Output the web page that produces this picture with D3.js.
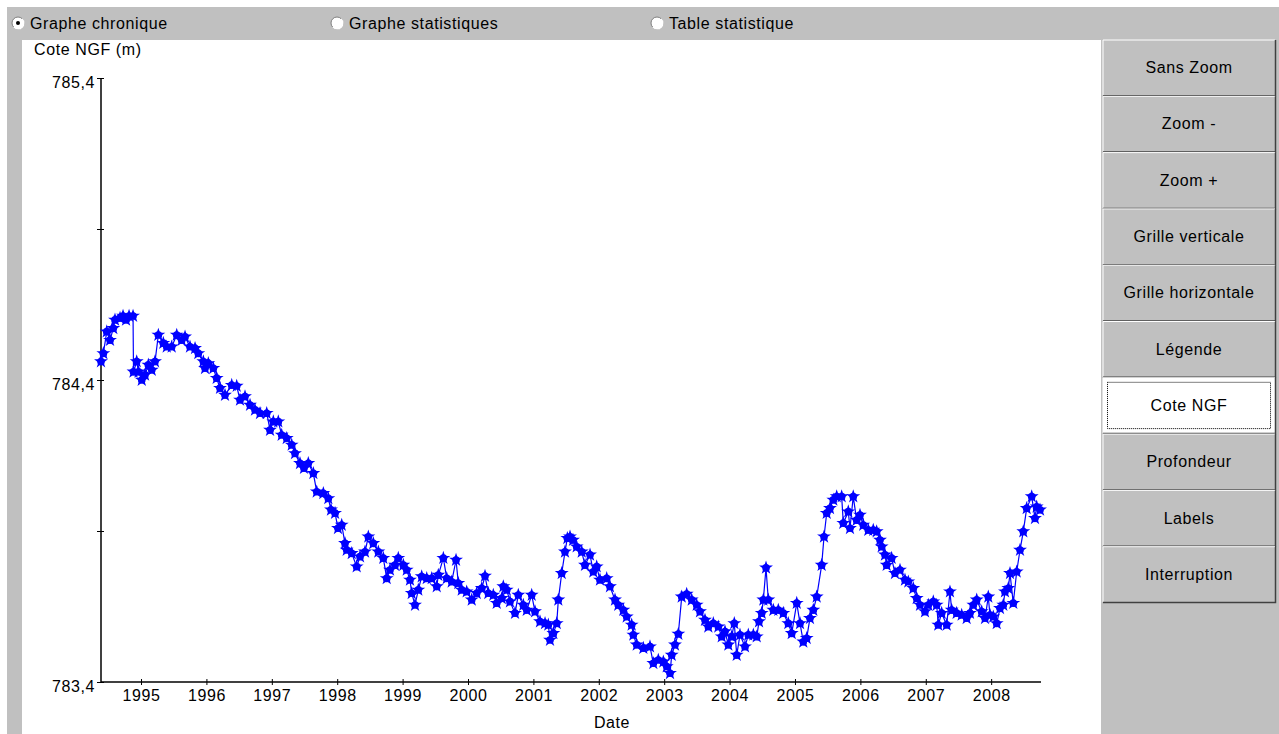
<!DOCTYPE html>
<html lang="fr">
<head>
    <meta charset="UTF-8">
    <style>
        html, body { margin:0; height:100%; overflow:hidden; background:#fff; }
        svg { position:absolute; top:0; left:0; }
        text { font-family: "Liberation Sans", Arial, sans-serif; fill:#000; letter-spacing:0.6px; }
    </style>
    <script src="https://d3js.org/d3.v7.min.js"></script>
</head>
<body>
<svg width="1279" height="734"></svg>
<script>
    // piezometer level readings: decimal year, Cote NGF (m)
    var dates = [
        1994.388,1994.424,1994.476,1994.526,1994.576,1994.602,1994.679,1994.725,1994.771,1994.817,
        1994.878,1994.885,1994.934,1994.962,1995.011,1995.061,1995.112,1995.164,1995.214,1995.265,
        1995.341,1995.393,1995.469,1995.546,1995.622,1995.673,1995.749,1995.826,1995.876,1995.953,
        1995.979,1996.029,1996.106,1996.157,1996.208,1996.284,1996.387,1996.463,1996.514,1996.590,
        1996.667,1996.743,1996.820,1996.922,1996.973,1997.023,1997.099,1997.151,1997.228,1997.304,
        1997.355,1997.431,1997.492,1997.558,1997.635,1997.687,1997.788,1997.864,1997.905,1997.967,
        1998.012,1998.069,1998.119,1998.145,1998.222,1998.298,1998.349,1998.425,1998.476,1998.552,
        1998.629,1998.705,1998.757,1998.807,1998.884,1998.934,1999.011,1999.063,1999.113,1999.139,
        1999.190,1999.240,1999.292,1999.369,1999.445,1999.522,1999.546,1999.623,1999.675,1999.751,
        1999.817,1999.852,1999.904,1999.980,2000.057,2000.133,2000.210,2000.260,2000.311,2000.387,
        2000.439,2000.516,2000.540,2000.592,2000.642,2000.719,2000.769,2000.846,2000.898,2000.974,
        2001.025,2001.101,2001.178,2001.228,2001.254,2001.305,2001.357,2001.381,2001.433,2001.483,
        2001.519,2001.560,2001.606,2001.662,2001.739,2001.789,2001.866,2001.916,2001.968,2002.018,
        2002.121,2002.171,2002.248,2002.298,2002.375,2002.427,2002.503,2002.528,2002.580,2002.681,
        2002.783,2002.834,2002.910,2002.987,2003.039,2003.089,2003.115,2003.165,2003.216,2003.268,
        2003.344,2003.421,2003.497,2003.548,2003.624,2003.675,2003.751,2003.828,2003.880,2003.930,
        2003.981,2004.032,2004.072,2004.109,2004.159,2004.236,2004.286,2004.363,2004.415,2004.450,
        2004.491,2004.516,2004.557,2004.592,2004.669,2004.745,2004.822,2004.898,2004.950,2005.027,
        2005.077,2005.127,2005.179,2005.229,2005.280,2005.332,2005.408,2005.444,2005.485,2005.535,
        2005.586,2005.638,2005.714,2005.739,2005.815,2005.841,2005.891,2005.943,2005.994,2006.044,
        2006.121,2006.197,2006.249,2006.300,2006.326,2006.376,2006.402,2006.478,2006.529,2006.606,
        2006.682,2006.733,2006.809,2006.861,2006.912,2006.988,2007.039,2007.115,2007.167,2007.191,
        2007.243,2007.320,2007.370,2007.396,2007.472,2007.549,2007.625,2007.676,2007.727,2007.779,
        2007.855,2007.906,2007.956,2007.982,2008.032,2008.085,2008.135,2008.185,2008.211,2008.262,
        2008.288,2008.338,2008.390,2008.441,2008.491,2008.543,2008.620,2008.670,2008.696,2008.747
    ];
    var levels = [
        784.461,784.488,784.560,784.532,784.571,784.599,784.605,784.612,784.599,784.612,
        784.612,784.427,784.461,784.427,784.400,784.417,784.450,784.433,784.461,784.549,
        784.522,784.510,784.510,784.549,784.532,784.543,784.510,784.505,784.488,784.461,
        784.439,784.455,784.439,784.406,784.373,784.350,784.383,784.380,784.334,784.345,
        784.317,784.301,784.290,784.290,784.234,784.262,784.262,784.218,784.207,784.185,
        784.157,784.124,784.108,784.124,784.091,784.030,784.025,784.008,783.970,783.959,
        783.909,783.920,783.859,783.837,783.826,783.782,783.815,783.831,783.881,783.859,
        783.831,783.810,783.743,783.771,783.787,783.810,783.787,783.771,783.738,783.694,
        783.655,783.705,783.749,783.743,783.743,783.716,783.754,783.810,783.743,783.732,
        783.804,783.727,783.705,783.699,783.672,783.694,783.710,783.751,783.694,783.688,
        783.661,783.677,783.716,783.705,783.666,783.628,783.688,783.655,783.638,783.688,
        783.633,783.600,783.594,783.589,783.539,783.561,783.594,783.672,783.760,783.831,
        783.876,783.881,783.870,783.848,783.831,783.787,783.821,783.765,783.782,783.738,
        783.743,783.716,783.672,783.655,783.638,783.616,783.589,783.556,783.523,783.512,
        783.517,783.462,783.473,783.467,783.451,783.429,783.489,783.523,783.559,783.682,
        783.691,783.672,783.655,783.633,783.605,783.583,783.594,783.583,783.550,783.567,
        783.523,783.550,783.594,783.489,783.556,783.517,783.556,783.556,783.550,783.600,
        783.628,783.672,783.778,783.672,783.638,783.638,783.628,783.594,783.561,783.661,
        783.594,783.533,783.545,783.611,783.638,783.682,783.787,783.881,783.959,783.975,
        784.003,784.014,784.014,783.926,783.964,783.909,784.014,783.936,783.953,783.920,
        783.903,783.903,783.898,783.870,783.848,783.821,783.787,783.810,783.760,783.771,
        783.738,783.732,783.710,783.677,783.655,783.633,783.655,783.666,783.655,783.589,
        783.628,783.589,783.699,783.638,783.628,783.622,783.611,783.628,783.655,783.672,
        783.633,783.611,783.682,783.622,783.616,783.594,783.644,783.655,783.699,783.710,
        783.760,783.661,783.765,783.837,783.898,783.975,784.014,783.942,783.980,783.970
    ];
    var yearTicks = [1995,1996,1997,1998,1999,2000,2001,2002,2003,2004,2005,2006,2007,2008];
    var levelTicks = [783.4, 783.9, 784.4, 784.9, 785.4];
    var levelLabels = [783.4, 784.4, 785.4];
    var views = ["Graphe chronique", "Graphe statistiques", "Table statistique"];
    var buttons = ["Sans Zoom","Zoom -","Zoom +","Grille verticale","Grille horizontale",
                   "Légende","Cote NGF","Profondeur","Labels","Interruption"];

    var svg = d3.select("svg");
    var grey = "#c0c0c0";
    var fs = 16;

    // window frame
    svg.append("rect").attr("x", 7).attr("y", 7).attr("width", 1272).attr("height", 727).attr("fill", grey);
    svg.append("rect").attr("x", 22).attr("y", 40).attr("width", 1079).attr("height", 694).attr("fill", "#fff");

    // radio buttons on top
    var radio = svg.append("g").selectAll("g")
        .data(views).enter().append("g")
        .attr("transform", function(d, i) { return "translate(" + [18, 337, 657][i] + ",23)"; });
    radio.append("circle").attr("r", 6).attr("fill", "#fff").attr("stroke", "#808080");
    radio.append("path").attr("d", d3.arc()({innerRadius: 5, outerRadius: 6.5, startAngle: Math.PI * 0.25, endAngle: Math.PI * 1.25}))
        .attr("fill", "#fff");
    radio.filter(function(d, i) { return i === 0; })
        .append("circle").attr("r", 2).attr("fill", "#000");
    radio.append("text").attr("x", 12).attr("y", 6).attr("font-size", fs).text(function(d) { return d; });

    // side buttons
    var bh = 56.3;
    var btn = svg.append("g").selectAll("g")
        .data(buttons).enter().append("g")
        .attr("transform", function(d, i) { return "translate(1103," + (40 + i * bh) + ")"; });
    btn.append("rect").attr("width", 172).attr("height", bh - 1)
        .attr("fill", function(d) { return d === "Cote NGF" ? "#fff" : grey; });
    btn.append("path").attr("d", "M0," + (bh - 1) + "V0H172").attr("stroke", "#fff").attr("fill", "none");
    btn.append("path").attr("d", "M0," + (bh - 0.5) + "H172.5V0").attr("stroke", "#404040").attr("stroke-width", 1.5).attr("fill", "none");
    btn.filter(function(d) { return d === "Cote NGF"; })
        .append("rect").attr("x", 4.5).attr("y", 4.5).attr("width", 163).attr("height", bh - 10)
        .attr("fill", "none").attr("stroke", "#000").attr("stroke-dasharray", "1,1");
    btn.append("text").attr("x", 86).attr("y", bh / 2 + 5).attr("text-anchor", "middle")
        .attr("font-size", fs).text(function(d) { return d; });

    // chart
    var x = d3.scaleLinear().domain([1994.388, 2008.762]).range([101, 1041]);
    var y = d3.scaleLinear().domain([783.4, 785.4]).range([682, 78]);
    var fmt = function(v) { return d3.format(".1f")(v).replace(".", ","); };

    var xAxis = svg.append("g").attr("transform", "translate(0,682)")
        .call(d3.axisBottom(x).tickValues(yearTicks).tickFormat(d3.format("d")).tickSize(3).tickPadding(5));
    xAxis.selectAll(".tick line").attr("y1", -3);
    var yAxis = svg.append("g").attr("transform", "translate(101,0)")
        .call(d3.axisLeft(y).tickValues(levelTicks)
            .tickFormat(function(v) { return levelLabels.indexOf(v) >= 0 ? fmt(v) : ""; })
            .tickSize(4).tickPadding(2));
    yAxis.selectAll(".tick line").attr("x1", 3);
    yAxis.selectAll(".tick text").attr("dy", "0.6em");
    svg.selectAll(".domain").attr("stroke", "#000").attr("stroke-width", 1.5);
    svg.selectAll(".tick text").attr("font-size", fs).attr("font-family", "Liberation Sans, Arial, sans-serif");
    yAxis.selectAll(".domain").attr("d", "M0,78V682");
    xAxis.selectAll(".domain").attr("d", "M101,0H1041");

    svg.append("text").attr("x", 34).attr("y", 55).attr("font-size", fs).text("Cote NGF (m)");
    svg.append("text").attr("x", 612).attr("y", 728).attr("text-anchor", "middle").attr("font-size", fs).text("Date");

    var pts = dates.map(function(d, i) { return [d, levels[i]]; });
    svg.append("path").datum(pts)
        .attr("fill", "none").attr("stroke", "#0000ff").attr("stroke-width", 1.2)
        .attr("d", d3.line().x(function(d) { return x(d[0]); }).y(function(d) { return y(d[1]); }));
    var marks = svg.append("g").selectAll("g").data(pts).enter().append("g")
        .attr("transform", function(d) { return "translate(" + x(d[0]) + "," + y(d[1]) + ")"; })
        .attr("fill", "#0000ff");
    marks.append("path").attr("d", d3.symbol().type(d3.symbolCircle).size(46));
    marks.append("path").attr("d", d3.symbol().type(d3.symbolStar).size(60));
</script>
</body>
</html>
